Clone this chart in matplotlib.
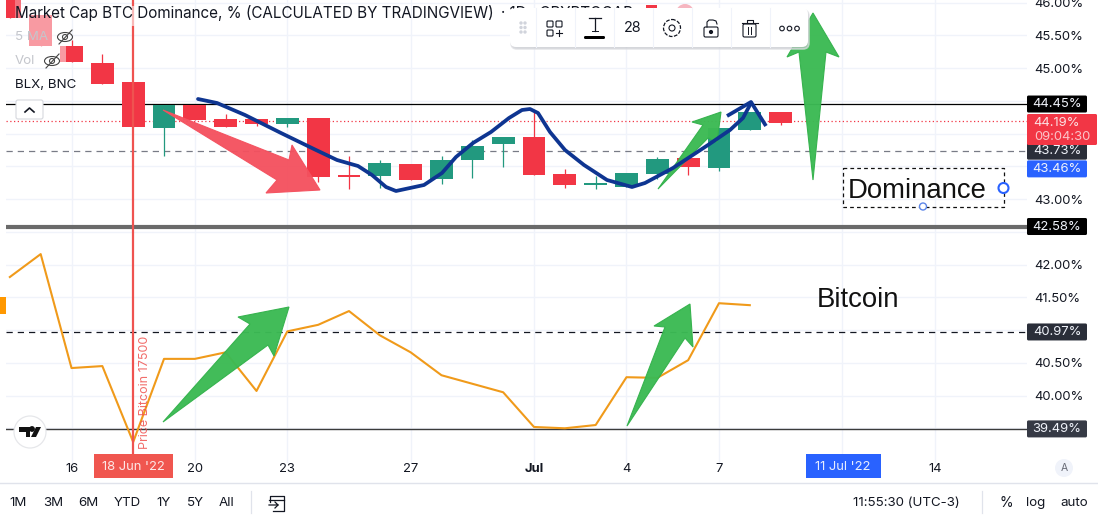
import matplotlib
matplotlib.use("Agg")
import matplotlib.pyplot as plt
from matplotlib.patches import Rectangle, Polygon, Circle, Ellipse, FancyBboxPatch

plt.rcParams['font.family'] = ['Inter', 'DejaVu Sans']

# days counted from 1 June, so 1 July is day 31
candle_days = list(range(14, 40))
candle_open = [46.10, 45.81, 45.34, 45.08, 44.79, 44.08, 44.44, 44.22, 44.22, 44.15, 44.24, 43.37, 43.35,
               43.53, 43.31, 43.60, 43.84, 43.95, 43.38, 43.21, 43.18, 43.38, 43.63, 43.47, 44.05, 44.33]
candle_close = [45.76, 45.34, 45.09, 44.76, 44.10, 44.44, 44.21, 44.10, 44.15, 44.24, 43.34, 43.34, 43.55,
                43.29, 43.60, 43.81, 43.95, 43.37, 43.21, 43.24, 43.40, 43.61, 43.49, 44.08, 44.33, 44.16]
candle_high = [46.10, 45.81, 45.43, 45.21, 44.79, 44.44, 44.44, 44.30, 44.22, 44.24, 44.24, 43.66, 43.60,
               43.53, 43.66, 43.90, 43.95, 44.33, 43.46, 43.35, 43.40, 43.64, 43.63, 44.08, 44.33, 44.33]
candle_low = [45.76, 45.34, 45.09, 44.76, 44.10, 43.66, 44.21, 44.10, 44.11, 44.10, 43.26, 43.15, 43.17,
              43.29, 43.23, 43.32, 43.49, 43.37, 43.17, 43.15, 43.18, 43.30, 43.37, 43.43, 44.05, 44.13]

btc_days = list(range(14, 39))
btc_values = [41.81, 42.16, 40.42, 40.45, 39.29, 40.56, 40.56, 40.66, 40.07, 40.98, 41.08, 41.29, 40.92,
              40.66, 40.31, 40.18, 40.05, 39.52, 39.50, 39.55, 40.28, 40.27, 40.54, 41.41, 41.38]

y_ticks = [39.5, 40, 40.5, 41, 41.5, 42, 42.5, 43, 43.5, 44, 44.5, 45, 45.5, 46]
y_labels = ['', '40.00%', '40.50%', '', '41.50%', '42.00%', '', '43.00%', '', '', '', '45.00%', '45.50%', '46.00%']
x_ticks = [16, 20, 23, 27, 31, 34, 37, 41, 44]
x_labels = ['16', '20', '23', '27', 'Jul', '4', '7', '', '14']

# price tags: value, text, colour
tags = [(44.45, '44.45%', '#000000'), (43.73, '43.73%', '#2a2e39'), (43.46, '43.46%', '#2962ff'),
        (42.58, '42.58%', '#000000'), (40.97, '40.97%', '#2a2e39'), (39.49, '39.49%', '#363a45')]

# hand drawn things, in screen pixels
red_arrow = [(163, 110), (289, 160), (292, 145), (320, 190), (266, 193), (277, 180)]
green_arrows = [
    [(813, 180), (799, 52), (787, 57), (813, 13), (839, 57), (826, 52)],
    [(658, 189), (703, 125), (692, 122), (721, 112), (717, 142), (708, 138)],
    [(163, 422), (250, 324), (238, 317), (289, 307), (274, 356), (268, 345)],
    [(627, 426), (665, 327), (654, 326), (690, 304), (693, 347), (685, 338)],
]
blue_curve = [(198, 99), (217, 103), (245, 115), (281, 133), (316, 150), (337, 160), (358, 166), (372, 175),
              (386, 187), (396, 191), (424, 185), (442, 173), (456, 157), (473, 143), (491, 132), (509, 118),
              (522, 110), (530, 109), (538, 113), (550, 132), (565, 150), (584, 165), (607, 180), (632, 187),
              (645, 183), (673, 168), (708, 145), (730, 130), (743, 118), (751, 103)]
blue_tick = [(727, 116), (751, 102), (766, 126)]

RED = '#f23645'
GREEN = '#22997f'
TEXT = '#131722'

fig = plt.figure(figsize=(10.98, 5.18), dpi=100)
ax = fig.add_axes([6 / 1098, 55 / 518, 1021 / 1098, 463 / 518])
ax.set_xlim(13.875, 46.99)
ax.set_ylim(38.97, 46.04)

# grid and axes
ax.set_xticks(x_ticks)
ax.set_xticklabels(x_labels, fontsize=9.4, color=TEXT)
ax.get_xticklabels()[4].set_fontweight('bold')
ax.set_yticks(y_ticks)
ax.set_yticklabels(y_labels, fontsize=9.4, color=TEXT)
ax.yaxis.tick_right()
ax.tick_params(length=0)
ax.tick_params(axis='y', pad=5.5)
ax.tick_params(axis='x', pad=0)
ax.grid(color='#f0f3fa', lw=1)
ax.set_axisbelow(True)
for s in ax.spines.values():
    s.set_visible(False)

# candles
for d, o, c, h, l in zip(candle_days, candle_open, candle_close, candle_high, candle_low):
    col = RED if c < o else GREEN
    ax.plot([d, d], [l, h], color=col, lw=0.9, zorder=3, solid_capstyle='butt')
    ax.bar(d, max(abs(c - o), 0.03), bottom=min(o, c), width=0.74, color=col, zorder=3)

# bitcoin line
ax.plot(btc_days, btc_values, color='#f09a1a', lw=1.5, zorder=4)

# horizontal lines
ax.axhline(44.45, color='#000000', lw=0.9, zorder=2)
ax.axhline(44.19, color=RED, lw=0.9, ls=(0, (1, 2)), zorder=2)
ax.axhline(43.73, color='#787b86', lw=0.9, ls=(0, (5, 4)), zorder=2)
ax.axhline(42.58, color='#6a6a6a', lw=3, zorder=2)
ax.axhline(40.97, color='#131722', lw=0.9, ls=(0, (5, 4)), zorder=2)
ax.axhline(39.49, color='#3a3a3a', lw=1, zorder=2)
ax.axvline(18, color='#ef5350', lw=1.6, zorder=5)

# everything drawn over the chart uses a pixel axes
ov = fig.add_axes([0, 0, 1, 1])
ov.set_xlim(0, 1098)
ov.set_ylim(518, 0)
ov.axis('off')
ov.patch.set_alpha(0)


def y_px(v):
    return 264.5 + (42 - v) * 65.5


# the legend fades what lies behind it
ov.add_patch(Rectangle((29, 15), 37, 47, color='white', alpha=0.5, lw=0))
ov.add_patch(Rectangle((15, 0), 6, 18, color='white', alpha=0.3, lw=0))
ov.add_patch(Rectangle((126, 6), 14, 20, color='white', alpha=0.6, lw=0))
ov.add_patch(Rectangle((646, 5), 11, 5, color=RED, lw=0))
ov.add_patch(Circle((685, 13), 9, color='#f6b6c0', lw=0))

# arrows and curve
ov.add_patch(Polygon(red_arrow, closed=True, fc='#f4515f', ec='#f4515f', lw=0.8, alpha=0.96))
for arrow in green_arrows:
    ov.add_patch(Polygon(arrow, closed=True, fc='#3cba54', ec='#34b24c', lw=0.8, alpha=0.97))
ov.plot(*zip(*blue_curve), color='#0e3591', lw=2.7, solid_capstyle='round')
ov.plot(*zip(*blue_tick), color='#0e3591', lw=2.7, solid_capstyle='butt')

# orange mark on the left edge
ov.add_patch(Rectangle((0, 297), 6, 17, color='#ff9800', lw=0))

# legend text
ov.text(15, 13, 'Market Cap BTC Dominance, % (CALCULATED BY TRADINGVIEW)', fontsize=10.95, color=TEXT, va='center')
ov.text(501, 13, '· 1D · CRYPTOCAP', fontsize=10.95, color=TEXT, va='center')
ov.text(15, 37, '5 MA', fontsize=9.6, color='#c4c6cc', va='center')
ov.text(15, 61, 'Vol', fontsize=9.6, color='#c4c6cc', va='center')
ov.text(15, 85, 'BLX, BNC', fontsize=9.6, color=TEXT, va='center')
for ex, ey in [(65, 37), (52, 61)]:
    ov.add_patch(Ellipse((ex, ey), 15, 9, fc='none', ec='#444444', lw=0.8))
    ov.add_patch(Circle((ex, ey), 2.5, fc='none', ec='#444444', lw=0.8))
    ov.plot([ex - 6, ex + 7], [ey + 7, ey - 7], color='#444444', lw=0.8)
ov.add_patch(FancyBboxPatch((16, 100), 27, 19, boxstyle='round,pad=0,rounding_size=2', fc='white', ec='#d6d8de', lw=0.8))
ov.plot([25, 29.5, 34], [112, 108, 112], color=TEXT, lw=1.2)

# vertical note
ov.text(145, 449, 'Price Bitcoin 17500', rotation=90, fontsize=9, color='#ef5350', alpha=0.85, ha='center', va='bottom')

# price tags
for v, s, col in tags:
    ov.add_patch(FancyBboxPatch((1027, y_px(v) - 8.5), 60, 17, boxstyle='round,pad=0,rounding_size=1.5', fc=col, ec='none'))
    ov.text(1057, y_px(v), s, fontsize=9.4, color='#f0f3fa', ha='center', va='center')
ov.add_patch(FancyBboxPatch((1027, 114), 70, 31, boxstyle='round,pad=0,rounding_size=1.5', fc=RED, ec='none'))
ov.text(1057, 122.5, '44.19%', fontsize=9.4, color='#fbe0e2', ha='center', va='center')
ov.text(1062, 137, '09:04:30', fontsize=9.4, color='#fbc4c9', ha='center', va='center')

# date tags
ov.add_patch(Rectangle((94, 454), 79, 24, color='#f0564f', lw=0))
ov.text(133.5, 467, "18 Jun '22", fontsize=9.4, color='#fde8e7', ha='center', va='center')
ov.add_patch(Rectangle((806, 454), 75, 24, color='#2962ff', lw=0))
ov.text(843, 467, "11 Jul '22", fontsize=9.4, color='#e8eefe', ha='center', va='center')

# labels typed on the chart
ov.add_patch(Rectangle((842.5, 168), 161, 38.5, fc='none', ec='#111111', lw=0.9, ls=(0, (3, 2.5))))
ov.text(848, 190.5, 'Dominance', family='Liberation Sans', fontsize=19.8, color='#111111', va='center')
ov.text(817, 300, 'Bitcoin', family='Liberation Sans', fontsize=19.8, color='#111111', va='center')
ov.add_patch(Circle((1003.5, 188), 5, fc='white', ec='#2962ff', lw=1.5, zorder=5))
ov.add_patch(Circle((923, 206.5), 3.5, fc='white', ec='#5c85e8', lw=1, zorder=5))

# floating toolbar
ov.add_patch(FancyBboxPatch((511, 10), 298, 39, boxstyle='round,pad=0,rounding_size=6', fc='#c4c6cc', ec='#dcdde1', lw=1.2, alpha=0.7, zorder=6))
ov.add_patch(FancyBboxPatch((510, 8), 298, 39, boxstyle='round,pad=0,rounding_size=6', fc='white', ec='none', zorder=6))
for dx in [535.5, 575, 613.5, 652.5, 691.5, 730.5, 769.5]:
    ov.plot([dx, dx], [8, 47], color='#f0f3fa', lw=0.8, zorder=7)
for gx in [521, 525]:
    for gy in [23, 27.5, 32]:
        ov.add_patch(Circle((gx, gy), 1, color='#d1d4dc', zorder=7))
for bx, by in [(547, 21), (556, 21), (547, 30)]:
    ov.add_patch(FancyBboxPatch((bx, by), 6, 6, boxstyle='round,pad=0,rounding_size=1', fc='white', ec=TEXT, lw=0.8, zorder=7))
ov.plot([556, 562], [33, 33], color=TEXT, lw=0.8, zorder=7)
ov.plot([559, 559], [30, 36], color=TEXT, lw=0.8, zorder=7)
ov.plot([589, 601], [18, 18], color=TEXT, lw=0.9, zorder=7)
ov.plot([595, 595], [18, 31], color=TEXT, lw=0.9, zorder=7)
ov.plot([592, 598], [31, 31], color=TEXT, lw=0.7, zorder=7)
ov.add_patch(FancyBboxPatch((584, 36), 21, 3, boxstyle='round,pad=0,rounding_size=1.4', fc='black', ec='none', zorder=7))
ov.text(633, 28.5, '28', fontsize=10.3, color=TEXT, ha='center', va='center', zorder=7)
ov.add_patch(Circle((672, 28), 8.5, fc='white', ec=TEXT, lw=0.9, ls=(0, (3, 1.2)), zorder=7))
ov.add_patch(Circle((672, 28), 3, fc='white', ec=TEXT, lw=0.8, zorder=7))
ov.add_patch(FancyBboxPatch((704, 27), 14, 10, boxstyle='round,pad=0,rounding_size=1.5', fc='white', ec=TEXT, lw=0.8, zorder=7))
ov.plot([707, 707, 709, 713, 716, 717], [27, 22, 20, 20, 21, 24], color=TEXT, lw=0.8, zorder=7)
ov.add_patch(Circle((711, 32), 1.4, color=TEXT, zorder=7))
ov.add_patch(FancyBboxPatch((743, 24), 13, 13, boxstyle='round,pad=0,rounding_size=1.5', fc='white', ec=TEXT, lw=0.8, zorder=7))
ov.plot([742, 758], [23, 23], color=TEXT, lw=0.8, zorder=7)
ov.plot([747, 747, 753, 753], [23, 20, 20, 23], color=TEXT, lw=0.8, zorder=7)
ov.plot([748, 748], [27, 34], color=TEXT, lw=0.7, zorder=7)
ov.plot([751, 751], [27, 34], color=TEXT, lw=0.7, zorder=7)
for dx in [782, 789.5, 797]:
    ov.add_patch(Circle((dx, 28.5), 2.3, fc='white', ec=TEXT, lw=0.8, zorder=7))

# tradingview badge
ov.add_patch(Circle((30, 432), 16, fc='white', ec='#e6e7ea', lw=0.9, zorder=6))
ov.add_patch(Polygon([(19, 427), (30, 427), (30, 437), (25.5, 437), (25.5, 431.5), (19, 431.5)], closed=True, fc='#111111', ec='none', zorder=7))
ov.add_patch(Circle((32, 429), 2.2, color='#111111', zorder=7))
ov.add_patch(Polygon([(36, 427), (41, 427), (36, 437), (31, 437)], closed=True, fc='#111111', ec='none', zorder=7))

# auto scale button
ov.add_patch(Circle((1064, 468), 9, color='#f0f3fa', lw=0))
ov.text(1064, 468, 'A', fontsize=7.5, color='#6a6d78', ha='center', va='center')

# bottom bar
ov.plot([0, 1098], [482.5, 482.5], color='#e0e3eb', lw=1)
range_names = ['1M', '3M', '6M', 'YTD', '1Y', '5Y', 'All']
range_x = [18, 53, 88, 127, 164, 195, 227]
for rx, name in zip(range_x, range_names):
    ov.text(rx, 503, name, fontsize=9.6, color=TEXT, ha='center', va='center')
ov.plot([251, 251], [491, 513], color='#e0e3eb', lw=0.9)
ov.plot([982, 982], [491, 513], color='#e0e3eb', lw=0.9)
ov.plot([270, 270, 284, 284, 273], [502, 496, 496, 511, 511], color=TEXT, lw=0.9)
ov.plot([269, 284], [499.5, 499.5], color=TEXT, lw=0.9)
ov.plot([269, 278, 275], [505, 505, 502], color=TEXT, lw=0.9)
ov.plot([278, 275], [505, 508], color=TEXT, lw=0.9)
ov.text(906, 503, '11:55:30 (UTC-3)', fontsize=9.6, color=TEXT, ha='center', va='center')
ov.text(1006, 503, '%', fontsize=10, color=TEXT, ha='center', va='center')
ov.text(1036, 503, 'log', fontsize=9.6, color=TEXT, ha='center', va='center')
ov.text(1074, 503, 'auto', fontsize=9.6, color=TEXT, ha='center', va='center')

fig.savefig('out.png', dpi=100)
